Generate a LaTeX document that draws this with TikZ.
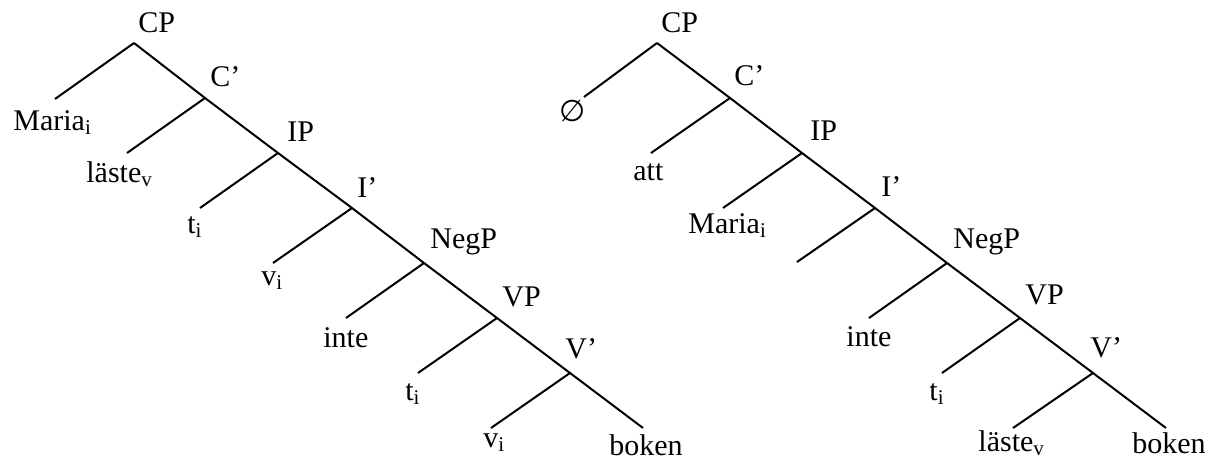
\documentclass[tikz,border=0pt]{standalone}
\usepackage{fontspec}
\setmainfont{Liberation Serif}
\newfontfamily\symfont{DejaVu Sans}
\begin{document}
\begin{tikzpicture}[x=0.5pt,y=-0.5pt,
  branch/.style={line width=1pt},
  lab/.style={anchor=base west,inner sep=0pt,font=\fontsize{15}{18}\selectfont}]
\useasboundingbox (0,0) rectangle (1218,465);

% ---------- first tree ----------
\coordinate (L0) at (134,43);
\coordinate (L1) at (205,98);
\coordinate (L2) at (278,153);
\coordinate (L3) at (352,208);
\coordinate (L4) at (424,263);
\coordinate (L5) at (497,318);
\coordinate (L6) at (570,373);
\coordinate (Lb) at (643,428);
\coordinate (La0) at (55,99);
\coordinate (La1) at (127,153);
\coordinate (La2) at (200,208);
\coordinate (La3) at (273,263);
\coordinate (La4) at (346,318);
\coordinate (La5) at (418,373);
\coordinate (La6) at (491,428);

\draw[branch] (L0) -- (L1) -- (L2) -- (L3) -- (L4) -- (L5) -- (L6) -- (Lb);
\draw[branch] (L0) -- (La0);
\draw[branch] (L1) -- (La1);
\draw[branch] (L2) -- (La2);
\draw[branch] (L3) -- (La3);
\draw[branch] (L4) -- (La4);
\draw[branch] (L5) -- (La5);
\draw[branch] (L6) -- (La6);

\node[lab] (lcp)   at (138,33)  {CP};
\node[lab] (lcb)   at (210,87)  {C’};
\node[lab] (lip)   at (287,141) {IP};
\node[lab] (lib)   at (357,197) {I’};
\node[lab] (lneg)  at (430,248) {NegP};
\node[lab] (lvp)   at (502,306) {VP};
\node[lab] (lvb)   at (565,358) {V’};

\node[lab] (lmaria) at (13,130)  {Maria\textsubscript{i}};
\node[lab] (llaste) at (86,182)  {läste\textsubscript{v}};
\node[lab] (lt1)    at (187,233) {t\textsubscript{i}};
\node[lab] (lv1)    at (261,285) {v\textsubscript{i}};
\node[lab] (linte)  at (323,347) {inte};
\node[lab] (lt2)    at (405,400) {t\textsubscript{i}};
\node[lab] (lv2)    at (483,447) {v\textsubscript{i}};
\node[lab] (lboken) at (609,455) {boken};

% ---------- second tree ----------
\coordinate (R0) at (657,43);
\coordinate (R1) at (730,98);
\coordinate (R2) at (802,153);
\coordinate (R3) at (875,208);
\coordinate (R4) at (947,263);
\coordinate (R5) at (1020,318);
\coordinate (R6) at (1093,373);
\coordinate (Rb) at (1166,428);
\coordinate (Ra0) at (584,97);
\coordinate (Ra1) at (651,153);
\coordinate (Ra2) at (723,208);
\coordinate (Ra3) at (797,262);
\coordinate (Ra4) at (869,318);
\coordinate (Ra5) at (942,373);
\coordinate (Ra6) at (1013,428);

\draw[branch] (R0) -- (R1) -- (R2) -- (R3) -- (R4) -- (R5) -- (R6) -- (Rb);
\draw[branch] (R0) -- (Ra0);
\draw[branch] (R1) -- (Ra1);
\draw[branch] (R2) -- (Ra2);
\draw[branch] (R3) -- (Ra3);
\draw[branch] (R4) -- (Ra4);
\draw[branch] (R5) -- (Ra5);
\draw[branch] (R6) -- (Ra6);

\node[lab] (rcp)   at (661,33)  {CP};
\node[lab] (rcb)   at (734,85)  {C’};
\node[lab] (rip)   at (810,140) {IP};
\node[lab] (rib)   at (881,196) {I’};
\node[lab] (rneg)  at (953,248) {NegP};
\node[lab] (rvp)   at (1025,304) {VP};
\node[lab] (rvb)   at (1090,357) {V’};

\node[inner sep=0pt,font=\symfont\fontsize{15}{18}\selectfont] (rempty) at (573,111) {∅};
\node[lab] (ratt)   at (633,180) {att};
\node[lab] (rmaria) at (688,233) {Maria\textsubscript{i}};
\node[lab] (rinte)  at (846,346) {inte};
\node[lab] (rt)     at (929,400) {t\textsubscript{i}};
\node[lab] (rlaste) at (978,451) {läste\textsubscript{v}};
\node[lab] (rboken) at (1132,453) {boken};
\end{tikzpicture}
\end{document}
